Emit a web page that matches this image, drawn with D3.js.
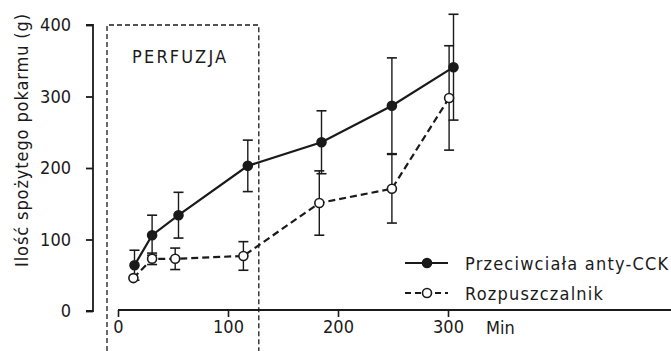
<!DOCTYPE html>
<html>
<head>
<meta charset="utf-8">
<script src="https://cdn.jsdelivr.net/npm/d3@7"></script>
<style>
  body { margin: 0; background: #fff; }
  svg text { font-family: "DejaVu Sans Condensed", "DejaVu Sans", sans-serif; fill: #1a1a1a; }
</style>
</head>
<body>
<svg id="chart" width="671" height="351"></svg>
<script>
// Data
const antiTime = [15, 31, 55, 118, 185, 249, 305];
const antiValue = [64, 106, 134, 203, 236, 287, 341];
const antiErr = [21, 28, 32, 36, 44, 67, 74];

const solvTime = [14, 31, 52, 114, 183, 249, 301];
const solvValue = [46, 73, 73, 77, 151, 171, 298];
const solvErr = [0, 8, 15, 20, 45, 48, 73];

const seriesNames = ["Przeciwciała anty-CCK", "Rozpuszczalnik"];
const yTicks = [0, 100, 200, 300, 400];
const xTicks = [0, 100, 200, 300];
const perfusion = [-10, 128];   // minutes covered by the dashed box

const svg = d3.select("#chart");
const width = +svg.attr("width");
const height = +svg.attr("height");

const x = d3.scaleLinear().domain([0, 300]).range([118, 448]);
const y = d3.scaleLinear().domain([0, 400]).range([311, 25]);

const ink = "#1a1a1a";

// Perfusion box
svg.append("path")
    .attr("d", `M${x(perfusion[0])},${height} V${y(400)} H${x(perfusion[1])} V${height}`)
    .attr("fill", "none")
    .attr("stroke", ink)
    .attr("stroke-width", 1.3)
    .attr("stroke-dasharray", "5,3");

svg.append("text")
    .attr("x", 132).attr("y", 63)
    .attr("font-size", 18)
    .attr("letter-spacing", 2.2)
    .text("PERFUZJA");

// Y axis
const yAxis = svg.append("g")
    .attr("transform", "translate(93,0)")
    .call(d3.axisLeft(y).tickValues(yTicks).tickSize(7).tickPadding(15));
yAxis.select(".domain").attr("d", `M-7,${y(400)}H0V${y(0)}H-7`).attr("stroke", ink).attr("stroke-width", 1.8);
yAxis.selectAll(".tick line").attr("stroke", ink).attr("stroke-width", 1.8);
yAxis.selectAll(".tick text").attr("font-size", 18).attr("font-family", null).attr("fill", ink);

svg.append("text")
    .attr("transform", "translate(28,140) rotate(-90)")
    .attr("text-anchor", "middle")
    .attr("font-size", 18)
    .attr("letter-spacing", 0.9)
    .text("Ilość spożytego pokarmu (g)");

// X axis
const xAxis = svg.append("g")
    .attr("transform", "translate(0,310)")
    .call(d3.axisBottom(x).tickValues(xTicks).tickSize(7).tickPadding(3));
xAxis.select(".domain").attr("d", `M${x(0)},0H${width}`).attr("stroke", ink).attr("stroke-width", 1.8);
xAxis.selectAll(".tick line").attr("stroke", ink).attr("stroke-width", 1.6);
xAxis.selectAll(".tick text").attr("font-size", 18).attr("font-family", null).attr("fill", ink);

svg.append("text")
    .attr("x", 486).attr("y", 334)
    .attr("font-size", 18)
    .text("Min");

// Series
const series = [
    { name: seriesNames[0], t: antiTime, v: antiValue, e: antiErr, fill: ink, dash: null },
    { name: seriesNames[1], t: solvTime, v: solvValue, e: solvErr, fill: "#fff", dash: "7,4" }
];

const line = d3.line().x(d => x(d.t)).y(d => y(d.v));

series.forEach(s => {
    const pts = s.t.map((t, i) => ({ t, v: s.v[i], e: s.e[i] }));
    const g = svg.append("g");

    // error bars
    const eb = g.selectAll(".err").data(pts.filter(d => d.e > 0)).enter().append("g");
    eb.append("line")
        .attr("x1", d => x(d.t)).attr("x2", d => x(d.t))
        .attr("y1", d => y(d.v + d.e)).attr("y2", d => y(d.v - d.e))
        .attr("stroke", ink).attr("stroke-width", 1.4);
    [1, -1].forEach(sign => {
        eb.append("line")
            .attr("x1", d => x(d.t) - 5).attr("x2", d => x(d.t) + 5)
            .attr("y1", d => y(d.v + sign * d.e)).attr("y2", d => y(d.v + sign * d.e))
            .attr("stroke", ink).attr("stroke-width", 1.6);
    });

    g.append("path")
        .datum(pts)
        .attr("d", line)
        .attr("fill", "none")
        .attr("stroke", ink)
        .attr("stroke-width", 2.2)
        .attr("stroke-dasharray", s.dash);

    g.selectAll("circle").data(pts).enter().append("circle")
        .attr("cx", d => x(d.t)).attr("cy", d => y(d.v))
        .attr("r", 4.5)
        .attr("fill", s.fill)
        .attr("stroke", ink)
        .attr("stroke-width", 1.6);
});

// Legend
const legend = svg.append("g");
series.forEach((s, i) => {
    const ly = 263 + i * 30;
    legend.append("line")
        .attr("x1", 405).attr("x2", 448).attr("y1", ly).attr("y2", ly)
        .attr("stroke", ink).attr("stroke-width", 2.2)
        .attr("stroke-dasharray", s.dash ? "6,4" : null);
    legend.append("circle")
        .attr("cx", 427).attr("cy", ly).attr("r", 4.5)
        .attr("fill", s.fill).attr("stroke", ink).attr("stroke-width", 1.6);
    legend.append("text")
        .attr("x", 465).attr("y", ly + 7)
        .attr("font-size", 18)
        .attr("letter-spacing", 1.2)
        .text(s.name);
});
</script>
</body>
</html>
